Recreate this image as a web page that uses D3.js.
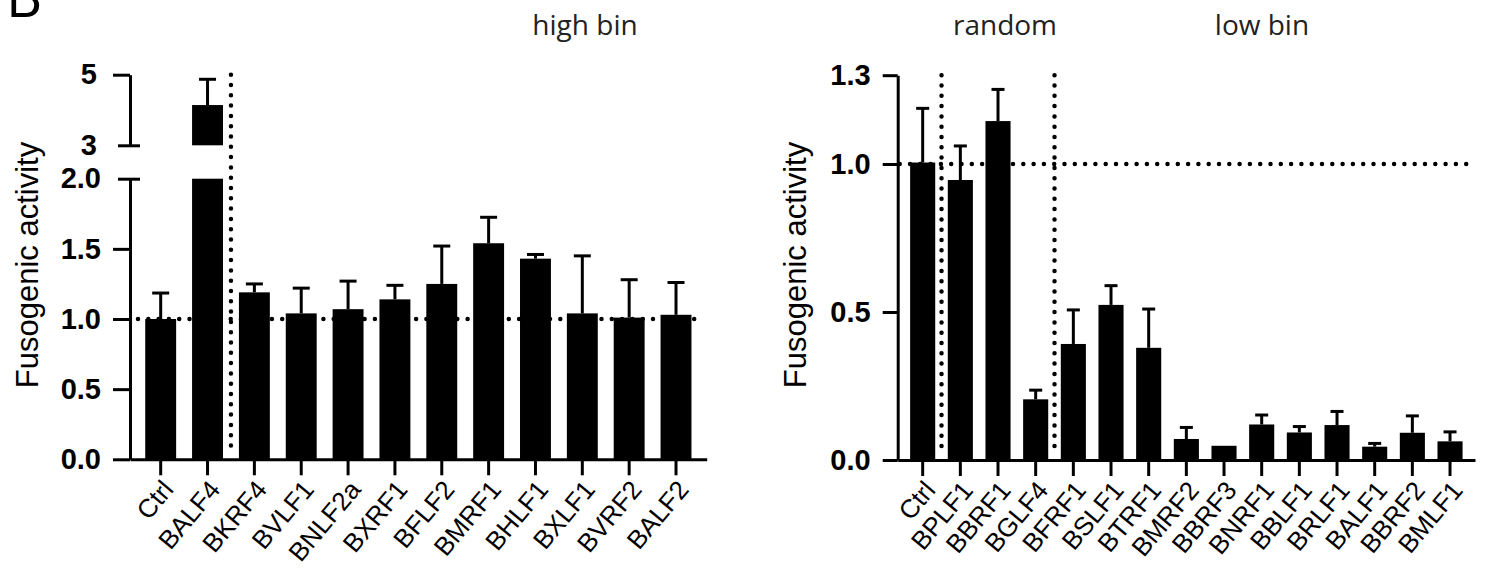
<!DOCTYPE html>
<html>
<head>
<meta charset="utf-8">
<script src="https://cdn.jsdelivr.net/npm/d3@7"></script>
<style>
  body { margin: 0; background: #fff; }
  svg { display: block; }
</style>
</head>
<body>
<div id="viz"></div>
<script>

// left panel: high bin
let highGenes = ['Ctrl', 'BALF4', 'BKRF4', 'BVLF1', 'BNLF2a', 'BXRF1', 'BFLF2', 'BMRF1', 'BHLF1', 'BXLF1', 'BVRF2', 'BALF2'];
let highMean  = [1.00, 4.14, 1.19, 1.04, 1.07, 1.14, 1.25, 1.54, 1.43, 1.04, 1.01, 1.03];
let highErr   = [0.185, 0.73, 0.06, 0.18, 0.20, 0.10, 0.27, 0.185, 0.03, 0.41, 0.27, 0.23];
let highTicksLow  = [0, 0.5, 1.0, 1.5, 2.0];
let highTicksHigh = [3, 5];

// right panel: random + low bin
let lowGenes = ['Ctrl', 'BPLF1', 'BBRF1', 'BGLF4', 'BFRF1', 'BSLF1', 'BTRF1', 'BMRF2', 'BBRF3', 'BNRF1', 'BBLF1', 'BRLF1', 'BALF1', 'BBRF2', 'BMLF1'];
let lowMean  = [1.005, 0.946, 1.145, 0.205, 0.392, 0.524, 0.379, 0.071, 0.048, 0.120, 0.093, 0.118, 0.045, 0.092, 0.063];
let lowErr   = [0.183, 0.115, 0.107, 0.031, 0.115, 0.065, 0.131, 0.039, 0, 0.032, 0.020, 0.046, 0.011, 0.057, 0.032];
let lowTicks = [0, 0.5, 1.0, 1.3];

let headers = ['high bin', 'random', 'low bin'];
let yTitle = 'Fusogenic activity';

let width = 1487,
    height = 574,
    tickFont = '"Liberation Sans", Arial, sans-serif';

let svg = d3.select('#viz').append('svg')
  .attr('width', width)
  .attr('height', height);

// panel letter (cropped at the top edge, as in the figure) and group headers
svg.append('text')
  .attr('x', 6).attr('y', 17)
  .style('font-family', '"Open Sans", sans-serif')
  .style('font-size', '56px')
  .text('B');

let headerX = [585, 1005, 1262];
svg.selectAll('.header').data(headers)
  .enter().append('text')
  .attr('class', 'header')
  .attr('x', function(d, i) { return headerX[i]; })
  .attr('y', 35)
  .attr('text-anchor', 'middle')
  .style('font-family', '"Open Sans", sans-serif')
  .style('font-size', '28px')
  .style('fill', '#222')
  .text(function(d) { return d; });

function styleAxis(g, bold, size) {
  g.attr('font-size', null).attr('font-family', null);
  g.select('.domain').attr('stroke-width', 3).attr('stroke', '#000');
  g.selectAll('.tick line').attr('stroke-width', 3).attr('stroke', '#000');
  g.selectAll('.tick text')
    .attr('fill', '#000')
    .style('font-family', tickFont)
    .style('font-weight', bold ? 'bold' : 'normal')
    .style('font-size', size + 'px');
}

function dotted(g, x1, y1, x2, y2) {
  g.append('line')
    .attr('x1', x1).attr('y1', y1).attr('x2', x2).attr('y2', y2)
    .attr('stroke', '#000')
    .attr('stroke-width', 4.5)
    .attr('stroke-linecap', 'round')
    .attr('stroke-dasharray', '0 10.3');
}

function xLabels(g) {
  g.selectAll('.tick text')
    .attr('text-anchor', 'end')
    .attr('x', 0).attr('y', 0).attr('dy', '0.35em')
    .attr('transform', 'translate(7,25) rotate(-50)');
}

function yLabel(x, y) {
  svg.append('text')
    .attr('transform', 'translate(' + x + ',' + y + ') rotate(-90)')
    .attr('text-anchor', 'middle')
    .style('font-family', tickFont)
    .style('font-size', '31px')
    .text(yTitle);
}

// ---------- left chart ----------
let xL = d3.scaleBand()
  .domain(highGenes)
  .range([130, 706.7])
  .paddingInner(0.34)
  .paddingOuter(0.325);

let yLow = d3.scaleLinear().domain([0, 2]).range([459.3, 178.7]);
let yHigh = d3.scaleLinear().domain([3, 5]).range([145.3, 74.7]);

let left = svg.append('g');

// bars, lower segment
left.selectAll('.barLow').data(highMean)
  .enter().append('rect')
  .attr('x', function(d, i) { return xL(highGenes[i]); })
  .attr('width', xL.bandwidth())
  .attr('y', function(d) { return yLow(Math.min(d, 2)); })
  .attr('height', function(d) { return yLow(0) - yLow(Math.min(d, 2)); })
  .attr('fill', '#000');

// bars, upper segment (above the axis break)
left.selectAll('.barHigh').data(highMean.filter(function(d) { return d > 3; }))
  .enter().append('rect')
  .attr('x', function(d) { return xL(highGenes[highMean.indexOf(d)]); })
  .attr('width', xL.bandwidth())
  .attr('y', function(d) { return yHigh(d); })
  .attr('height', function(d) { return yHigh(3) - yHigh(d); })
  .attr('fill', '#000');

highMean.forEach(function(d, i) {
  let y = d > 3 ? yHigh : yLow,
      cx = xL(highGenes[i]) + xL.bandwidth() / 2;
  if (!highErr[i]) return;
  left.append('line')
    .attr('x1', cx).attr('x2', cx)
    .attr('y1', y(d)).attr('y2', y(d + highErr[i]))
    .attr('stroke', '#000').attr('stroke-width', 3);
  left.append('line')
    .attr('x1', cx - 8.5).attr('x2', cx + 8.5)
    .attr('y1', y(d + highErr[i])).attr('y2', y(d + highErr[i]))
    .attr('stroke', '#000').attr('stroke-width', 3);
});

let yLowAxis = left.append('g')
  .attr('transform', 'translate(130,0)')
  .call(d3.axisLeft(yLow).tickValues(highTicksLow).tickSize(17).tickPadding(12)
    .tickSizeOuter(0).tickFormat(d3.format('.1f')));
styleAxis(yLowAxis, true, 29);
yLowAxis.selectAll('.tick line').filter(function(d) { return d === 2; })
  .attr('x1', 10).attr('x2', -12);

let yHighAxis = left.append('g')
  .attr('transform', 'translate(130,0)')
  .call(d3.axisLeft(yHigh).tickValues(highTicksHigh).tickSize(17).tickPadding(16)
    .tickSizeOuter(0).tickFormat(d3.format('d')));
styleAxis(yHighAxis, true, 29);
yHighAxis.selectAll('.tick line').filter(function(d) { return d === 3; })
  .attr('x1', 10).attr('x2', -12);

let xLAxis = left.append('g')
  .attr('transform', 'translate(0,' + yLow(0) + ')')
  .call(d3.axisBottom(xL).tickSize(16).tickSizeOuter(0));
styleAxis(xLAxis, false, 26);
xLabels(xLAxis);

// reference lines
dotted(left, xL.range()[0] + 8, yLow(1), xL.range()[1] - 5, yLow(1));
let splitL = (xL('BALF4') + xL('BKRF4')) / 2 + xL.bandwidth() / 2;
dotted(left, splitL, yHigh(5), splitL, yLow(0) - 6);

yLabel(38, 265);

// ---------- right chart ----------
let xR = d3.scaleBand()
  .domain(lowGenes)
  .range([897.7, 1475])
  .paddingInner(0.334)
  .paddingOuter(0.33);

let yR = d3.scaleLinear().domain([0, 1.3]).range([460, 75.2]);

let right = svg.append('g');

right.selectAll('rect').data(lowMean)
  .enter().append('rect')
  .attr('x', function(d, i) { return xR(lowGenes[i]); })
  .attr('width', xR.bandwidth())
  .attr('y', function(d) { return yR(d); })
  .attr('height', function(d) { return yR(0) - yR(d); })
  .attr('fill', '#000');

lowMean.forEach(function(d, i) {
  let cx = xR(lowGenes[i]) + xR.bandwidth() / 2;
  if (!lowErr[i]) return;
  right.append('line')
    .attr('x1', cx).attr('x2', cx)
    .attr('y1', yR(d)).attr('y2', yR(d + lowErr[i]))
    .attr('stroke', '#000').attr('stroke-width', 3);
  right.append('line')
    .attr('x1', cx - 6.5).attr('x2', cx + 6.5)
    .attr('y1', yR(d + lowErr[i])).attr('y2', yR(d + lowErr[i]))
    .attr('stroke', '#000').attr('stroke-width', 3);
});

let yRAxis = right.append('g')
  .attr('transform', 'translate(897.7,0)')
  .call(d3.axisLeft(yR).tickValues(lowTicks).tickSize(15).tickPadding(12)
    .tickSizeOuter(0).tickFormat(d3.format('.1f')));
styleAxis(yRAxis, true, 29);

let xRAxis = right.append('g')
  .attr('transform', 'translate(0,' + yR(0) + ')')
  .call(d3.axisBottom(xR).tickSize(16).tickSizeOuter(0));
styleAxis(xRAxis, false, 26);
xLabels(xRAxis);

dotted(right, xR.range()[0] + 2, yR(1), xR.range()[1] - 5, yR(1));
[['Ctrl', 'BPLF1'], ['BGLF4', 'BFRF1']].forEach(function(p) {
  let sx = (xR(p[0]) + xR(p[1])) / 2 + xR.bandwidth() / 2;
  dotted(right, sx, yR(1.3), sx, yR(0) - 6);
});

yLabel(806, 265);

</script>
</body>
</html>
